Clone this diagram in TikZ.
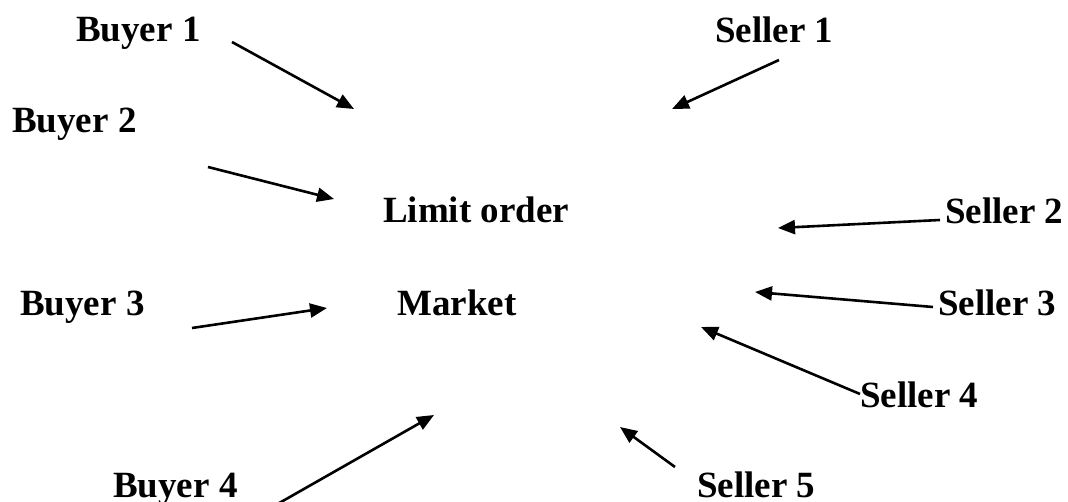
\documentclass[tikz,border=0pt]{standalone}
\usepackage{fontspec}
\setmainfont{Liberation Serif}
\usetikzlibrary{arrows.meta}
\begin{document}
\begin{tikzpicture}[x=1pt,y=-1pt,
  lbl/.style={anchor=base west,inner sep=0pt,font=\fontsize{37}{40}\selectfont\bfseries},
  flow/.style={line width=2.6pt,-{Triangle[length=17pt,width=14pt]}}]
\useasboundingbox (0,0) rectangle (1068,502);
% participants
\node[lbl] (b1) at (76,42)  {Buyer 1};
\node[lbl] (b2) at (12,133) {Buyer 2};
\node[lbl] (b3) at (20,316) {Buyer 3};
\node[lbl] (b4) at (113,497) {Buyer 4};
\node[lbl] (s1) at (715,43) {Seller 1};
\node[lbl] (s2) at (945,224) {Seller 2};
\node[lbl] (s3) at (938,316) {Seller 3};
\node[lbl] (s4) at (860,407) {Seller 4};
\node[lbl] (s5) at (697,497) {Seller 5};
% centre
\node[lbl] (lo) at (383,223) {Limit order};
\node[lbl] (mk) at (397,316) {Market};
% arrow ends
\coordinate (b1t) at (232,42);  \coordinate (b1h) at (354,109);
\coordinate (b2t) at (208,167); \coordinate (b2h) at (334,199);
\coordinate (b3t) at (192,328); \coordinate (b3h) at (327,308);
\coordinate (b4t) at (274,506); \coordinate (b4h) at (434,415);
\coordinate (s1t) at (779,60);  \coordinate (s1h) at (672,109);
\coordinate (s2t) at (940,220); \coordinate (s2h) at (778,228);
\coordinate (s3t) at (933,307); \coordinate (s3h) at (755,292);
\coordinate (s4t) at (860,394); \coordinate (s4h) at (701,327);
\coordinate (s5t) at (675,467); \coordinate (s5h) at (620,427);
% orders flowing in
\foreach \p in {b1,b2,b3,b4,s1,s2,s3,s4,s5}
  \draw[flow] (\p t) -- (\p h);
\end{tikzpicture}
\end{document}
